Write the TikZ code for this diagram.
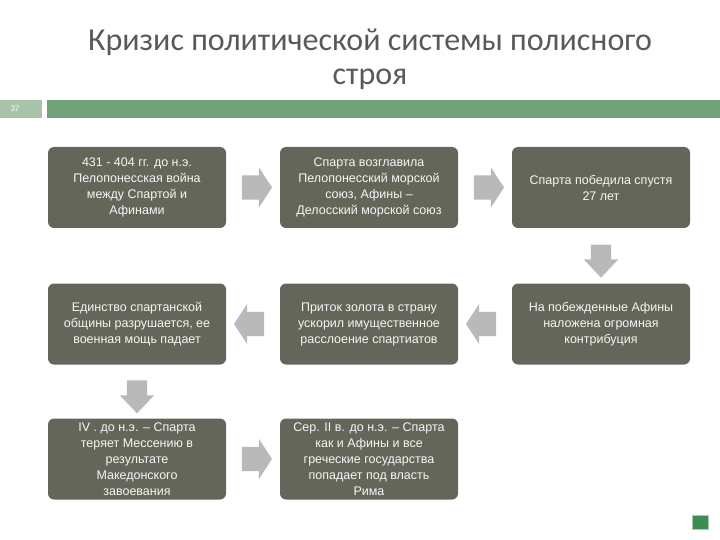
\documentclass[tikz,border=0pt]{standalone}
\usepackage{fontspec}
\setmainfont{Liberation Sans}
\newfontfamily\titlefont{Carlito}
\usetikzlibrary{calc,shapes.arrows}
\definecolor{SLBox}{HTML}{64665A}
\definecolor{SLArrow}{HTML}{B9B9B9}
\definecolor{SLTitle}{HTML}{595959}
\definecolor{SLBar}{HTML}{72A17A}
\definecolor{SLNum}{HTML}{A9C3AA}
\definecolor{SLIcon}{HTML}{3F8C50}
\tikzset{
  stage/.style={fill=SLBox,rounded corners=6pt,text=white!94!SLBox,align=center,
                minimum width=178pt,minimum height=81pt,inner sep=2pt,
                font=\fontsize{12.5}{16}\selectfont},
  blockarrow/.style={single arrow,fill=SLArrow,draw=none,inner xsep=0pt,inner ysep=12pt,
                minimum height=30pt,
                single arrow head extend=8pt,single arrow tip angle=114},
  downarrow/.style={blockarrow,rotate=-90,inner ysep=10pt,minimum height=33pt,
                single arrow head extend=7pt,single arrow tip angle=87},
  headline/.style={text=SLTitle,align=center,font=\titlefont\fontsize{32}{34}\selectfont},
}
\begin{document}
\begin{tikzpicture}[x=1pt,y=-1pt]
  \useasboundingbox (0,0) rectangle (720,540);
  % header
  \node[headline] (title) at (370,59) {Кризис политической системы полисного\\строя};
  \fill[SLNum] (0,100) rectangle (42,118);
  \node[text=white,font=\fontsize{8}{9}\selectfont] (num) at (15,109) {37};
  \fill[SLBar] (47,100) rectangle (720,118);

  % first row
  \node[stage] (war) at (137,187.5) {431 - 404 гг. до н.э.\\Пелопонесская война\\между Спартой и\\Афинами};
  \node[stage] (union) at (369,187.5) {Спарта возглавила\\Пелопонесский морской\\союз, Афины –\\Делосский морской союз};
  \node[stage] (win) at (601,187.5) {Спарта победила спустя\\27 лет};

  % second row
  \node[stage] (tribute) at (601,324) {На побежденные Афины\\наложена огромная\\контрибуция};
  \node[stage] (gold) at (369,324) {Приток золота в страну\\ускорил имущественное\\расслоение спартиатов};
  \node[stage] (unity) at (137,324) {Единство спартанской\\общины разрушается, ее\\военная мощь падает};

  % third row
  \node[stage] (messenia) at (137,459) {IV . до н.э. – Спарта\\теряет Мессению в\\результате\\Македонского\\завоевания};
  \node[stage] (rome) at (369,459) {Сер. II в. до н.э. – Спарта\\как и Афины и все\\греческие государства\\попадает под власть\\Рима};

  % arrows
  \node[blockarrow] (a1) at ($(war.east)!.5!(union.west)$) {};
  \node[blockarrow] (a2) at ($(union.east)!.5!(win.west)$) {};
  \node[downarrow] (a3) at ($(win.south)!.5!(tribute.north)$) {};
  \node[blockarrow,rotate=180] (a4) at ($(tribute.west)!.5!(gold.east)$) {};
  \node[blockarrow,rotate=180] (a5) at ($(gold.west)!.5!(unity.east)$) {};
  \node[downarrow] (a6) at ($(unity.south)!.5!(messenia.north)$) {};
  \node[blockarrow] (a7) at ($(messenia.east)!.5!(rome.west)$) {};

  % corner icon
  \node[fill=SLIcon,draw=SLIcon!45,line width=1pt,minimum width=16pt,minimum height=14pt,inner sep=0pt] (nav) at (700,522) {};
\end{tikzpicture}
\end{document}
